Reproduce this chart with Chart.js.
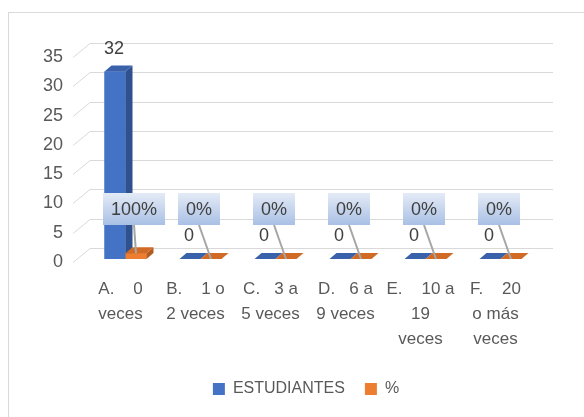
<!DOCTYPE html>
<html>
<head>
<meta charset="utf-8">
<script src="https://cdn.jsdelivr.net/npm/chart.js@4.4.0/dist/chart.umd.min.js"></script>
<style>
  html, body { margin: 0; padding: 0; background: #fff; overflow: hidden; }
  #frame { position: absolute; left: 8px; top: 12px; width: 600px; height: 420px; border: 1px solid #d9d9d9; }
  #wrap { position: absolute; left: 0; top: 0; width: 584px; height: 417px; }
</style>
</head>
<body>
<div id="frame"></div>
<div id="wrap"><canvas id="chart"></canvas></div>
<script>
// data
const categories = [
  ["A.    0", "veces"],
  ["B.    1 o", "2 veces"],
  ["C.   3 a", "5 veces"],
  ["D.   6 a", "9 veces"],
  ["E.    10 a", "19", "veces"],
  ["F.    20", "o más", "veces"]
];
const estudiantes = [32, 0, 0, 0, 0, 0];
const porcentaje = [1, 0, 0, 0, 0, 0];   // 1 = 100%
const seriesNames = ["ESTUDIANTES", "%"];
const yMax = 35;
const yStep = 5;

const TEXT = "#595959";
const FONT = "'Liberation Sans', Arial, sans-serif";
const DX = 7, DY = 6;

// back wall grid lines, Excel 3D style
const wallGrid = {
  id: "wallGrid",
  afterLayout(chart) {
    // legend sits centred under the whole frame, not just the plot
    chart.legend.left += 37;
    chart.legend.right += 37;
  },
  beforeDatasetsDraw(chart) {
    const { ctx, chartArea, scales: { y } } = chart;
    ctx.save();
    ctx.strokeStyle = "#d9d9d9";
    ctx.lineWidth = 1;
    y.ticks.forEach((t) => {
      const py = Math.round(y.getPixelForValue(t.value) + 3) + 0.5;
      ctx.beginPath();
      ctx.moveTo(chartArea.left - 15, py);
      ctx.lineTo(chartArea.left + 2, py - 14);
      ctx.lineTo(chartArea.right + 15, py - 14);
      ctx.stroke();
    });
    ctx.restore();
  }
};

// redraw bars with top and side faces, then the labels
const bars3d = {
  id: "bars3d",
  afterDatasetsDraw(chart) {
    const ctx = chart.ctx;
    ctx.save();
    chart.data.datasets.forEach((ds, i) => {
      chart.getDatasetMeta(i).data.forEach((el) => {
        const { x, y, base, width } = el.getProps(["x", "y", "base", "width"], true);
        const l = x - width / 2, r = x + width / 2;
        el.draw(ctx);
        ctx.fillStyle = ds.sideColor;
        ctx.beginPath();
        ctx.moveTo(r, y); ctx.lineTo(r + DX, y - DY);
        ctx.lineTo(r + DX, base - DY); ctx.lineTo(r, base);
        ctx.closePath(); ctx.fill();
        ctx.fillStyle = ds.topColor;
        ctx.beginPath();
        ctx.moveTo(l, y); ctx.lineTo(l + DX, y - DY);
        ctx.lineTo(r + DX, y - DY); ctx.lineTo(r, y);
        ctx.closePath(); ctx.fill();
      });
    });

    // value labels for ESTUDIANTES
    ctx.font = "18px " + FONT;
    ctx.fillStyle = "#404040";
    ctx.textAlign = "center";
    ctx.textBaseline = "middle";
    chart.getDatasetMeta(0).data.forEach((el, j) => {
      ctx.fillText(String(estudiantes[j]), el.x - 1, el.y - 23);
    });

    // callouts for %
    chart.getDatasetMeta(1).data.forEach((el, j) => {
      const txt = Math.round(porcentaje[j] * 100) + "%";
      ctx.font = "18px " + FONT;
      const w = ctx.measureText(txt).width + 16, h = 32;
      const left = el.x - 33, top = el.base - 66;
      ctx.strokeStyle = "#a6a6a6";
      ctx.lineWidth = 2;
      ctx.beginPath();
      ctx.moveTo(left + w / 2, top + h);
      ctx.lineTo(el.x, el.y);
      ctx.stroke();
      const g = ctx.createLinearGradient(0, top, 0, top + h);
      g.addColorStop(0, "#e4ebf6");
      g.addColorStop(1, "#a9c0e5");
      ctx.fillStyle = g;
      ctx.fillRect(left, top, w, h);
      ctx.fillStyle = "#404040";
      ctx.fillText(txt, left + w / 2, top + h / 2 + 1);
    });
    ctx.restore();
  }
};

new Chart(document.getElementById("chart"), {
  type: "bar",
  data: {
    labels: categories,
    datasets: [
      {
        label: seriesNames[0],
        data: estudiantes,
        backgroundColor: "#4472c4",
        sideColor: "#2f528f",
        topColor: "#3a62ab",
        categoryPercentage: 0.56,
        barPercentage: 1
      },
      {
        label: seriesNames[1],
        data: porcentaje,
        backgroundColor: "#ed7d31",
        sideColor: "#b25c1f",
        topColor: "#d06a25",
        categoryPercentage: 0.56,
        barPercentage: 1
      }
    ]
  },
  options: {
    responsive: true,
    maintainAspectRatio: false,
    animation: false,
    layout: { padding: { top: 54, right: 46, left: 0, bottom: 10 } },
    scales: {
      x: {
        grid: { display: false, drawTicks: false },
        border: { display: false },
        ticks: {
          color: TEXT,
          font: { family: FONT, size: 17, lineHeight: 1.47 },
          padding: 18,
          labelOffset: -5,
          maxRotation: 0,
          autoSkip: false
        },
        afterFit: (s) => { s.height = 102; }
      },
      y: {
        min: 0,
        max: yMax,
        grid: { display: false, drawTicks: false },
        border: { display: false },
        ticks: {
          stepSize: yStep,
          color: TEXT,
          font: { family: FONT, size: 18 },
          padding: 25,
          labelOffset: 3
        },
        afterFit: (s) => { s.width = 88; }
      }
    },
    plugins: {
      legend: {
        position: "bottom",
        labels: {
          color: TEXT,
          font: { family: FONT, size: 16 },
          boxWidth: 12,
          boxHeight: 12,
          padding: 20
        }
      },
      tooltip: { enabled: false }
    }
  },
  plugins: [wallGrid, bars3d]
});
</script>
</body>
</html>
